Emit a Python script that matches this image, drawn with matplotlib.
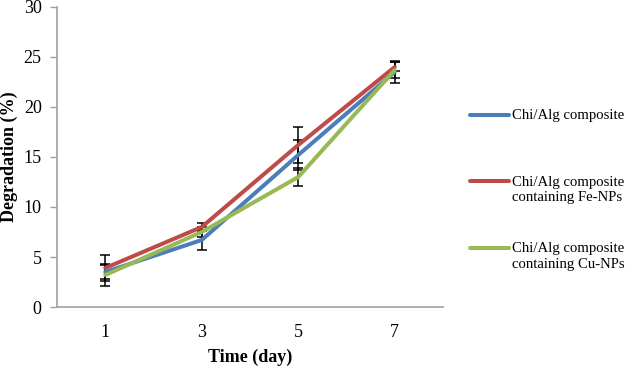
import matplotlib
matplotlib.use("Agg")
import matplotlib.pyplot as plt
import numpy as np
from matplotlib.legend_handler import HandlerLine2D
from matplotlib.lines import Line2D

days = ["1", "3", "5", "7"]
chi_alg = [3.5, 6.7, 15.2, 23.5]
chi_alg_fe = [3.9, 8.0, 16.2, 24.0]
chi_alg_cu = [3.2, 7.5, 13.0, 23.7]
err_chi_alg = [0.7, 1.0, 1.5, 1.1]
err_chi_alg_fe = [1.3, 0.4, 1.8, 0.45]
err_chi_alg_cu = [1.1, 0.5, 0.9, 0.8]
labels = ["Chi/Alg composite", "Chi/Alg composite\ncontaining Fe-NPs", "Chi/Alg composite\ncontaining Cu-NPs"]
colors = ["#4A7EBB", "#BE4B48", "#98B954"]

plt.rcParams['font.family'] = ['Liberation Serif', 'DejaVu Serif']


class FirstLineHandler(HandlerLine2D):
    """Places the legend line at the level of the label's first text line."""
    def __init__(self, dy, **kw):
        super().__init__(**kw)
        self.dy = dy

    def create_artists(self, legend, orig_handle, xdescent, ydescent, width, height, fontsize, trans):
        arts = super().create_artists(legend, orig_handle, xdescent, ydescent, width, height, fontsize, trans)
        for a in arts:
            if isinstance(a, Line2D):
                a.set_ydata(np.asarray(a.get_ydata(), dtype=float) + self.dy)
        return arts


fig = plt.figure(figsize=(6.27, 3.66), dpi=100)
ax = fig.add_axes([57/627, 59/366, (443-57)/627, 300/366])

x = list(range(len(days)))
lines = []
for ys, c, lab in zip([chi_alg, chi_alg_fe, chi_alg_cu], colors, labels):
    l, = ax.plot(x, ys, color=c, lw=2.9, label=lab, solid_capstyle='round', zorder=3)
    lines.append(l)
for ys, er in zip([chi_alg, chi_alg_fe, chi_alg_cu], [err_chi_alg, err_chi_alg_fe, err_chi_alg_cu]):
    ax.errorbar(x, ys, yerr=er, fmt='none', ecolor='black',
                elinewidth=1.1, capsize=3.6, capthick=1.1, zorder=2)

ax.set_xlim(-0.5, 3.5)
ax.set_ylim(0, 30)
ax.set_yticks(range(0, 31, 5))
ax.set_xticks(x)
ax.set_xticklabels(days)
for s in ['top', 'right']:
    ax.spines[s].set_visible(False)
for s in ['left', 'bottom']:
    ax.spines[s].set_color('#A0A0A0')
    ax.spines[s].set_linewidth(1.2)
ax.tick_params(axis='y', colors='#A0A0A0', length=5, width=1, labelsize=13, labelcolor='black', pad=6)
ax.tick_params(axis='x', length=0, labelsize=13, labelcolor='black', pad=12)
ax.set_xlabel("Time (day)", fontsize=13, fontweight='bold', labelpad=6)
ax.set_ylabel("Degradation (%)", fontsize=13, fontweight='bold', labelpad=4)

leg_labels = [lab if "\n" in lab else lab + "\n" for lab in labels]
handler = FirstLineHandler(dy=6.1)
leg = fig.legend(handles=lines, labels=leg_labels, loc='center left', bbox_to_anchor=(457/627, 1 - 190/366),
                 frameon=False, fontsize=10.6, handlelength=2.65, handletextpad=0.2, labelspacing=2.55,
                 handler_map={l: handler for l in lines})
for t in leg.get_texts():
    t.set_linespacing(1.27)

fig.savefig("out.png", dpi=100)
